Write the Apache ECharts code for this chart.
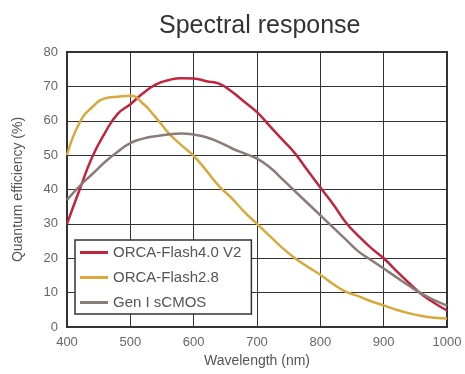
<!DOCTYPE html>
<html>
<head>
<meta charset="utf-8">
<script src="https://cdn.jsdelivr.net/npm/echarts@6/dist/echarts.min.js"></script>
<style>
  html, body { margin: 0; padding: 0; background: #fff; }
  #main { width: 465px; height: 374px; }
</style>
</head>
<body>
<div id="main"></div>
<script>
// wavelength in nm, 20 nm steps
const wavelengths = [400, 420, 440, 460, 480, 500, 520, 540, 560, 580, 600, 620, 640, 660, 680, 700,
  720, 740, 760, 780, 800, 820, 840, 860, 880, 900, 920, 940, 960, 980, 1000];

// quantum efficiency (%)
const flash40v2 = [30, 40, 49.5, 56.5, 62, 64.8, 68, 70.5, 71.8, 72.4, 72.3, 71.5, 70.8, 68.5, 65.5, 62.5,
  58.5, 54.5, 50.5, 45.5, 40.6, 35.8, 30.5, 26.5, 23, 20, 16.3, 12.8, 9.5, 7, 4.8];
const flash28 = [50, 59.5, 64, 66.5, 67, 67.3, 65, 61, 56.5, 53, 49.8, 45.5, 41, 37.5, 33.5, 30,
  26.5, 23, 20, 17.5, 15.2, 12.5, 10.3, 9, 7.5, 6.3, 5, 4, 3.2, 2.7, 2.5];
const gen1Scmos = [37, 41, 44.5, 48, 51, 53.5, 54.8, 55.5, 56, 56.3, 56, 55.2, 53.8, 52, 50.5, 49,
  46.5, 43, 39.5, 36, 32.5, 29, 25.5, 22, 19.5, 17, 14.5, 12, 9.7, 7.8, 6.2];

const seriesNames = ['ORCA-Flash4.0 V2', 'ORCA-Flash2.8', 'Gen I sCMOS'];
const seriesColors = ['#c2243e', '#d9a93c', '#8b7c77'];

const font = '"Liberation Sans", Arial, sans-serif';

const pairs = (ys) => wavelengths.map((x, i) => [x, ys[i]]);

const chart = echarts.init(document.getElementById('main'));

const option = {
  animation: false,
  title: {
    text: 'Spectral response',
    left: 154,
    top: 9,
    textStyle: { fontFamily: font, fontSize: 25, fontWeight: 'normal', color: '#333' }
  },
  grid: { left: 67, right: 18, top: 52, bottom: 47, show: true, borderColor: '#333', borderWidth: 2 },
  legend: {
    orient: 'vertical',
    left: 75,
    top: 240,
    padding: [4, 10, 3, 5],
    itemGap: 8,
    itemWidth: 28,
    itemHeight: 3,
    icon: 'rect',
    borderColor: '#333',
    borderWidth: 1.5,
    backgroundColor: '#fff',
    textStyle: { fontFamily: font, fontSize: 15, color: '#555', lineHeight: 17 },
    data: seriesNames
  },
  xAxis: {
    type: 'value',
    min: 400,
    max: 1000,
    interval: 100,
    name: 'Wavelength (nm)',
    nameLocation: 'middle',
    nameGap: 27,
    nameTextStyle: { fontFamily: font, fontSize: 14, color: '#555' },
    axisLine: { show: true, lineStyle: { color: '#333', width: 2 } },
    axisTick: { show: false },
    axisLabel: { fontFamily: font, fontSize: 13, color: '#666', margin: 9, formatter: (v) => String(v) },
    splitLine: { show: true, lineStyle: { color: '#333', width: 1 } }
  },
  yAxis: {
    type: 'value',
    min: 0,
    max: 80,
    interval: 10,
    name: 'Quantum efficiency (%)',
    nameLocation: 'middle',
    nameGap: 42,
    nameTextStyle: { fontFamily: font, fontSize: 14, color: '#555' },
    axisLine: { show: true, lineStyle: { color: '#333', width: 2 } },
    axisTick: { show: false },
    axisLabel: { fontFamily: font, fontSize: 13, color: '#666', margin: 9 },
    splitLine: { show: true, lineStyle: { color: '#333', width: 1 } }
  },
  series: [
    { name: seriesNames[0], data: pairs(flash40v2) },
    { name: seriesNames[1], data: pairs(flash28) },
    { name: seriesNames[2], data: pairs(gen1Scmos) }
  ].map((s, i) => ({
    ...s,
    type: 'line',
    smooth: true,
    symbol: 'none',
    color: seriesColors[i],
    lineStyle: { width: 2.5, color: seriesColors[i] }
  }))
};

chart.setOption(option);
</script>
</body>
</html>
